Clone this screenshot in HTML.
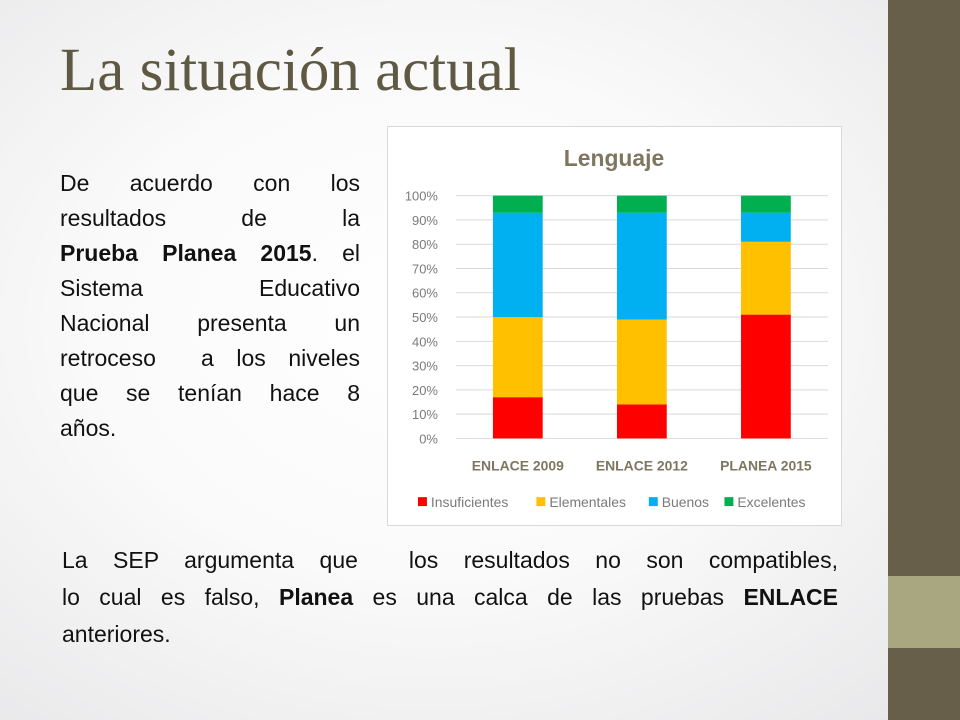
<!DOCTYPE html>
<html><head><meta charset="utf-8"><style>
body{margin:0;width:960px;height:720px;overflow:hidden;position:relative;font-family:"Liberation Sans",sans-serif;background:radial-gradient(ellipse at 45% 45%,#ffffff 0%,#fafafa 45%,#e6e6e8 100%);}
.title{position:absolute;left:60px;top:36px;font-family:"Liberation Serif",serif;font-size:61px;color:#5f5943;white-space:nowrap;}
.side{position:absolute;left:888px;top:0;width:72px;height:720px;background:#685f4a;}
.side2{position:absolute;left:888px;top:576px;width:72px;height:72px;background:#a9a780;}
.left{position:absolute;left:60px;top:166px;width:300px;font-size:23px;line-height:35px;color:#111;}
.bottom{position:absolute;left:62px;top:542px;width:776px;font-size:23px;line-height:37px;color:#111;}
.j{text-align:justify;text-align-last:justify;white-space:nowrap;}
.chart{position:absolute;left:387px;top:126px;width:455px;height:400px;background:#fff;border:1px solid #d9d9d9;box-sizing:border-box;}
</style></head><body>
<div class="title">La situación actual</div>
<div class="side"></div>
<div class="side2"></div>
<div class="left">
<div class="j">De acuerdo con los</div>
<div class="j">resultados de la</div>
<div class="j"><b>Prueba Planea 2015</b>. el</div>
<div class="j">Sistema Educativo</div>
<div class="j">Nacional presenta un</div>
<div class="j">retroceso &nbsp;a los niveles</div>
<div class="j">que se tenían hace 8</div>
<div>años.</div>
</div>
<div class="bottom">
<div class="j">La SEP argumenta que &nbsp;los resultados no son compatibles,</div>
<div class="j">lo cual es falso, <b>Planea</b> es una calca de las pruebas <b>ENLACE</b></div>
<div>anteriores.</div>
</div>
<svg class="chart" width="455" height="400" viewBox="387 126 455 400" id="chart"></svg>
<script>
const categories=["ENLACE 2009","ENLACE 2012","PLANEA 2015"];
const seriesNames=["Insuficientes","Elementales","Buenos","Excelentes"];
const insuficientes=[17,14,51];
const elementales=[33,35,30];
const buenos=[43,44,12];
const excelentes=[7,7,7];
const ticks=[0,10,20,30,40,50,60,70,80,90,100];
const colors=["#ff0000","#ffc000","#00b0f0","#00b050"];
const svg=document.getElementById('chart');
const NS='http://www.w3.org/2000/svg';
function el(t,a){const e=document.createElementNS(NS,t);for(const k in a)e.setAttribute(k,a[k]);svg.appendChild(e);return e;}
const y0=439,y1=195,xL=455,xR=829;
function y(v){return y0-(v/100)*(y0-y1);}
const band=(xR-xL)/categories.length;
function xc(i){return xL+band*(i+0.5);}
const t=el('text',{x:614,y:165,'text-anchor':'middle','font-size':23,'font-weight':'bold',fill:'#7f7660'});
t.textContent='Lenguaje';
ticks.forEach(v=>{
 const g=el('line',{x1:xL,x2:xR,y1:y(v),y2:y(v),stroke:'#d9d9d9','stroke-width':1});
 
 const l=el('text',{x:437,y:y(v)+5,'text-anchor':'end','font-size':13,fill:'#7a7a7a'});
 l.textContent=v+'%';
});
const series=[insuficientes,elementales,buenos,excelentes];
categories.forEach((c,i)=>{
 let acc=0;
 series.forEach((s,j)=>{
  const r=el('rect',{x:xc(i)-25,y:y(acc+s[i]),width:50,height:y(acc)-y(acc+s[i]),fill:colors[j]});
  
  
  acc+=s[i];
 });
 const l=el('text',{x:xc(i),y:471,'text-anchor':'middle','font-size':14,'font-weight':'bold',fill:'#7f7660'});
 l.textContent=c;
});
const lx=[417,536,649,725];
seriesNames.forEach((n,j)=>{
 const r=el('rect',{x:lx[j],y:498,width:9,height:9,fill:colors[j]});
 
 const l=el('text',{x:lx[j]+13,y:508,'font-size':14,fill:'#7a7a7a'});
 l.textContent=n;
});
</script>
</body></html>
